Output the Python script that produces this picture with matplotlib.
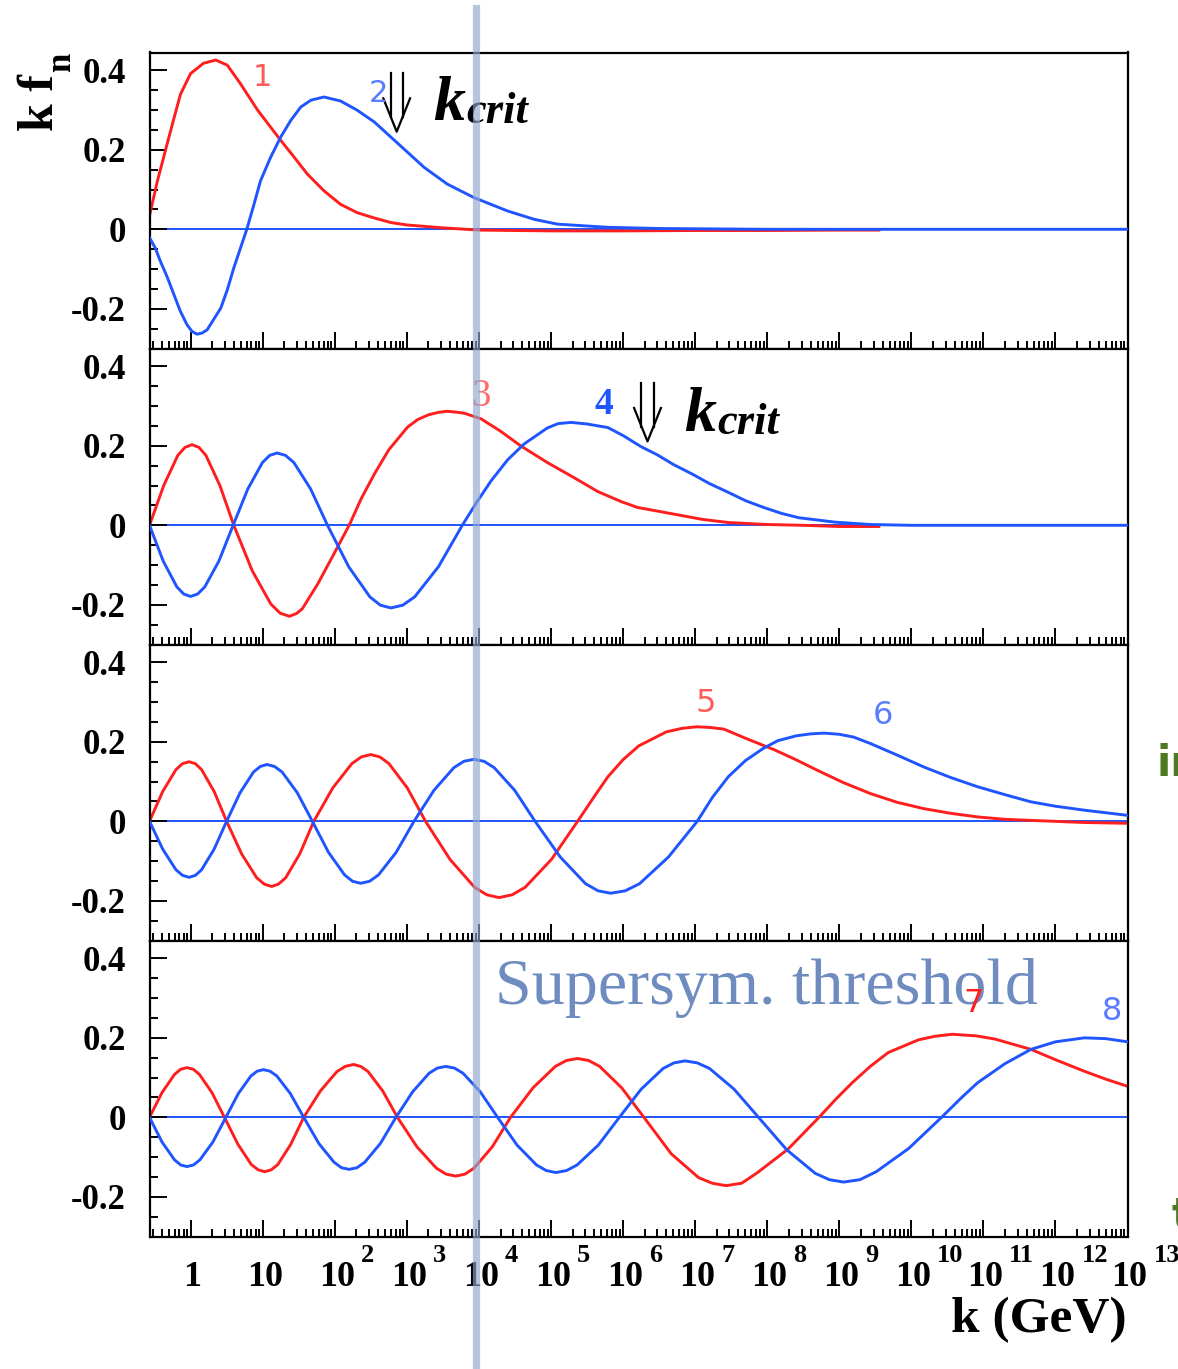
import numpy as np
import matplotlib
matplotlib.use("Agg")
import matplotlib.pyplot as plt
from matplotlib.lines import Line2D
from matplotlib.ticker import LogLocator, FixedLocator, MultipleLocator, NullFormatter
from matplotlib.transforms import blended_transform_factory, offset_copy

# ---------------------------------------------------------------
#  data: (log10(k / GeV), k*f_n)
# ---------------------------------------------------------------
curve_1 = [(-0.57, 0.034), (-0.46, 0.122), (-0.35, 0.198), (-0.23, 0.28), (-0.14, 0.34),
           (0.0, 0.392), (0.18, 0.418), (0.35, 0.426), (0.51, 0.413), (0.69, 0.367),
           (0.93, 0.30), (1.25, 0.224), (1.44, 0.181), (1.62, 0.139), (1.85, 0.097),
           (2.08, 0.063), (2.31, 0.042), (2.54, 0.029), (2.78, 0.017), (3.0, 0.011),
           (3.47, 0.004), (4.0, -0.002), (5.0, -0.004), (6.0, -0.004), (7.0, -0.003),
           (8.0, -0.003), (9.0, -0.002), (9.55, -0.002)]

curve_2 = [(-0.57, -0.021), (-0.49, -0.047), (-0.42, -0.080), (-0.32, -0.122), (-0.23, -0.165),
           (-0.14, -0.207), (-0.05, -0.24), (0.02, -0.257), (0.09, -0.264), (0.16, -0.261),
           (0.23, -0.253), (0.42, -0.198), (0.51, -0.152), (0.6, -0.097), (0.78, 0.0),
           (0.88, 0.063), (0.97, 0.122), (1.11, 0.181), (1.25, 0.232), (1.39, 0.274),
           (1.53, 0.308), (1.67, 0.325), (1.85, 0.333), (2.08, 0.323), (2.31, 0.30),
           (2.55, 0.27), (2.78, 0.232), (3.01, 0.194), (3.24, 0.156), (3.56, 0.114),
           (3.93, 0.080), (4.4, 0.046), (4.77, 0.025), (5.09, 0.013), (5.79, 0.005),
           (6.5, 0.002), (8.0, 0.0), (13.0, 0.0)]

curve_3 = [(-0.57, 0.0), (-0.373, 0.10), (-0.177, 0.176), (-0.078, 0.196), (0.02, 0.203),
           (0.117, 0.196), (0.213, 0.176), (0.407, 0.10), (0.6, 0.0), (0.857, -0.115),
           (1.113, -0.198), (1.242, -0.221), (1.37, -0.229), (1.47, -0.222), (1.55, -0.21),
           (1.76, -0.149), (1.98, -0.075), (2.2, 0.0), (2.37, 0.068), (2.55, 0.129),
           (2.75, 0.19), (3.01, 0.247), (3.15, 0.266), (3.3, 0.278), (3.43, 0.284),
           (3.56, 0.287), (3.68, 0.285), (3.8, 0.282), (4.03, 0.268), (4.3, 0.237),
           (4.58, 0.20), (4.95, 0.158), (5.32, 0.12), (5.65, 0.085), (5.97, 0.06),
           (6.2, 0.045), (6.71, 0.028), (7.1, 0.015), (7.46, 0.007), (8.0, 0.002),
           (8.5, 0.0), (9.0, -0.003), (9.55, -0.003)]

curve_4 = [(-0.57, 0.0), (-0.38, -0.09), (-0.19, -0.155), (-0.095, -0.173), (0.0, -0.179),
           (0.098, -0.173), (0.197, -0.155), (0.393, -0.09), (0.59, 0.0), (0.793, 0.091),
           (0.997, 0.158), (1.098, 0.176), (1.2, 0.182), (1.317, 0.176), (1.433, 0.158),
           (1.667, 0.091), (1.9, 0.0), (2.193, -0.104), (2.487, -0.18), (2.633, -0.201),
           (2.78, -0.208), (2.945, -0.201), (3.11, -0.18), (3.44, -0.104), (3.77, 0.0),
           (3.97, 0.058), (4.17, 0.112), (4.4, 0.165), (4.63, 0.205), (4.95, 0.245),
           (5.1, 0.256), (5.28, 0.259), (5.5, 0.255), (5.79, 0.246), (6.0, 0.226),
           (6.25, 0.198), (6.47, 0.178), (6.7, 0.153), (6.96, 0.129), (7.2, 0.105),
           (7.46, 0.083), (7.7, 0.062), (7.95, 0.045), (8.2, 0.03), (8.44, 0.019),
           (8.94, 0.008), (9.43, 0.002), (10.0, 0.0), (13.0, 0.0)]

curve_5 = [(-0.57, 0.0), (-0.387, 0.075), (-0.203, 0.13), (-0.112, 0.145), (-0.02, 0.15),
           (0.067, 0.145), (0.153, 0.13), (0.327, 0.075), (0.5, 0.0), (0.708, -0.082),
           (0.917, -0.142), (1.021, -0.158), (1.125, -0.164), (1.22, -0.158), (1.32, -0.142),
           (1.515, -0.082), (1.71, 0.0), (1.973, 0.084), (2.237, 0.145), (2.368, 0.162),
           (2.5, 0.168), (2.627, 0.162), (2.753, 0.145), (3.007, 0.084), (3.26, 0.0),
           (3.6, -0.096), (3.94, -0.166), (4.11, -0.185), (4.28, -0.192), (4.462, -0.185),
           (4.643, -0.166), (5.007, -0.096), (5.37, 0.0), (5.6, 0.062), (5.79, 0.112),
           (6.0, 0.155), (6.22, 0.19), (6.6, 0.225), (6.82, 0.234), (7.03, 0.238),
           (7.22, 0.236), (7.4, 0.232), (7.7, 0.209), (8.1, 0.18), (8.4, 0.155),
           (8.69, 0.129), (9.05, 0.098), (9.43, 0.07), (9.8, 0.048), (10.17, 0.032),
           (10.55, 0.02), (10.92, 0.011), (11.3, 0.005), (11.7, 0.002), (12.4, -0.003),
           (13.0, -0.005)]

curve_6 = [(-0.57, 0.0), (-0.387, -0.07), (-0.203, -0.122), (-0.112, -0.136), (-0.02, -0.141),
           (0.067, -0.136), (0.153, -0.122), (0.327, -0.07), (0.5, 0.0), (0.687, 0.072),
           (0.873, 0.124), (0.967, 0.138), (1.06, 0.143), (1.165, 0.138), (1.27, 0.124),
           (1.48, 0.072), (1.69, 0.0), (1.913, -0.078), (2.137, -0.135), (2.248, -0.151),
           (2.36, -0.156), (2.483, -0.151), (2.607, -0.135), (2.853, -0.078), (3.1, 0.0),
           (3.377, 0.078), (3.653, 0.135), (3.792, 0.151), (3.93, 0.156), (4.072, 0.151),
           (4.213, 0.135), (4.497, 0.078), (4.78, 0.0), (5.13, -0.09), (5.48, -0.157),
           (5.655, -0.175), (5.83, -0.181), (6.03, -0.175), (6.23, -0.157), (6.63, -0.09),
           (7.03, 0.0), (7.24, 0.06), (7.46, 0.112), (7.7, 0.153), (7.95, 0.184),
           (8.15, 0.203), (8.4, 0.215), (8.6, 0.22), (8.79, 0.222), (9.0, 0.219),
           (9.2, 0.212), (9.43, 0.196), (9.8, 0.167), (10.17, 0.137), (10.55, 0.11),
           (10.92, 0.087), (11.3, 0.067), (11.66, 0.049), (12.0, 0.038), (12.4, 0.028),
           (13.0, 0.015)]

curve_7 = [(-0.57, 0.0), (-0.397, 0.062), (-0.223, 0.108), (-0.137, 0.121), (-0.05, 0.125),
           (0.037, 0.121), (0.123, 0.108), (0.297, 0.062), (0.47, 0.0), (0.657, -0.068),
           (0.843, -0.119), (0.937, -0.132), (1.03, -0.137), (1.12, -0.132), (1.21, -0.119),
           (1.39, -0.068), (1.57, 0.0), (1.8, 0.066), (2.03, 0.115), (2.145, 0.128),
           (2.26, 0.133), (2.362, 0.128), (2.463, 0.115), (2.667, 0.066), (2.87, 0.0),
           (3.14, -0.074), (3.41, -0.128), (3.545, -0.143), (3.68, -0.148), (3.807, -0.143),
           (3.933, -0.128), (4.187, -0.074), (4.44, 0.0), (4.75, 0.074), (5.06, 0.128),
           (5.215, 0.143), (5.37, 0.148), (5.523, 0.143), (5.677, 0.128), (5.983, 0.074),
           (6.29, 0.0), (6.67, -0.092), (7.05, -0.152), (7.24, -0.166), (7.43, -0.172),
           (7.645, -0.166), (7.86, -0.14), (8.29, -0.08), (8.72, 0.0), (8.95, 0.045),
           (9.18, 0.087), (9.43, 0.128), (9.68, 0.163), (10.1, 0.195), (10.33, 0.204),
           (10.57, 0.209), (10.9, 0.205), (11.16, 0.197), (11.66, 0.171), (12.0, 0.145),
           (12.4, 0.116), (12.7, 0.096), (13.0, 0.078)]

curve_8 = [(-0.57, 0.0), (-0.397, -0.062), (-0.223, -0.107), (-0.137, -0.12), (-0.05, -0.124),
           (0.04, -0.12), (0.13, -0.107), (0.31, -0.062), (0.49, 0.0), (0.663, 0.06),
           (0.837, 0.104), (0.923, 0.116), (1.01, 0.12), (1.103, 0.116), (1.197, 0.104),
           (1.383, 0.06), (1.57, 0.0), (1.78, -0.066), (1.99, -0.113), (2.095, -0.127),
           (2.2, -0.131), (2.308, -0.127), (2.417, -0.113), (2.633, -0.066), (2.85, 0.0),
           (3.08, 0.064), (3.31, 0.111), (3.425, 0.124), (3.54, 0.128), (3.66, 0.124),
           (3.78, 0.111), (4.02, 0.064), (4.26, 0.0), (4.53, -0.07), (4.8, -0.12),
           (4.935, -0.134), (5.07, -0.139), (5.217, -0.134), (5.363, -0.12), (5.657, -0.07),
           (5.95, 0.0), (6.253, 0.071), (6.557, 0.123), (6.708, 0.137), (6.86, 0.142),
           (7.03, 0.137), (7.2, 0.123), (7.54, 0.071), (7.88, 0.0), (8.273, -0.082),
           (8.667, -0.141), (8.863, -0.157), (9.06, -0.163), (9.287, -0.157), (9.513, -0.137),
           (9.967, -0.078), (10.42, 0.0), (10.7, 0.05), (10.92, 0.087), (11.3, 0.135),
           (11.66, 0.171), (12.0, 0.19), (12.4, 0.2), (12.7, 0.198), (13.0, 0.19)]

y_ticks = [-0.2, 0.0, 0.2, 0.4]
y_labels = ["-0.2", "0", "0.2", "0.4"]
x_decades = list(range(0, 14))
curve_names = ["1", "2", "3", "4", "5", "6", "7", "8"]

# ---------------------------------------------------------------
#  style
# ---------------------------------------------------------------
W, H = 1178, 1369
RED = "#ff1e1e"
BLUE = "#1f55ff"
SERIF = "Liberation Serif"
X0, X1 = 149.5, 1127.5          # axes left/right (px)
TOPS = [52.5, 348.5, 644.5, 940.5]
PH = 296.0


def fx(x):
    return x / W


def fy(y):
    return 1 - y / H


fig = plt.figure(figsize=(W / 100, H / 100), dpi=100)
fig.patch.set_facecolor("white")

panels = [(curve_1, curve_2), (curve_3, curve_4), (curve_5, curve_6), (curve_7, curve_8)]

axes = []
for i, (c_red, c_blue) in enumerate(panels):
    ax = fig.add_axes([fx(X0), fy(TOPS[i] + PH), (X1 - X0) / W, PH / H])
    ax.set_xscale("log")
    ax.axhline(0, color=BLUE, lw=1.4, zorder=1)
    lr, vr = np.array(c_red).T
    lb, vb = np.array(c_blue).T
    ax.plot(10 ** lr, vr, color=RED, lw=2.1, zorder=2, solid_joinstyle="round")
    ax.plot(10 ** lb, vb, color=BLUE, lw=2.1, zorder=3, solid_joinstyle="round")
    ax.set_xlim(10 ** -0.57, 1e13)
    ax.set_ylim(-0.3, 0.445)

    ax.xaxis.set_major_locator(LogLocator(base=10, numticks=40))
    ax.xaxis.set_minor_locator(LogLocator(base=10, subs=np.arange(2, 10), numticks=400))
    ax.xaxis.set_major_formatter(NullFormatter())
    ax.xaxis.set_minor_formatter(NullFormatter())
    ax.yaxis.set_major_locator(FixedLocator(y_ticks))
    ax.yaxis.set_minor_locator(MultipleLocator(0.05))
    ax.set_yticklabels(y_labels, fontfamily=SERIF, fontweight="bold", fontsize=25)
    ax.tick_params(which="both", direction="in", top=False, right=False, width=1.4)
    ax.tick_params(which="major", length=12)
    ax.tick_params(which="minor", length=6)
    ax.tick_params(axis="y", pad=17)
    for s in ax.spines.values():
        s.set_linewidth(1.6)
    axes.append(ax)

# ---- x tick labels in ROOT style (bottom panel) ----------------
axb = axes[-1]
tr = blended_transform_factory(axb.transData, fig.transFigure)
for e in x_decades:
    k = 10.0 ** e
    txt = "1" if e == 0 else "10"
    axb.text(k, fy(1277), txt, transform=offset_copy(tr, fig, x=2, units="dots"),
             ha="center", va="center", fontfamily=SERIF, fontweight="bold",
             fontsize=26, clip_on=False)
    if e >= 2:
        axb.text(k, fy(1256), str(e), transform=offset_copy(tr, fig, x=26, units="dots"),
                 ha="left", va="center", fontfamily=SERIF, fontweight="bold",
                 fontsize=19, clip_on=False)

# ---- axis titles ------------------------------------------------
fig.text(fx(1127), fy(1320), "k (GeV)", ha="right", va="center",
         fontfamily=SERIF, fontweight="bold", fontsize=37)
fig.text(fx(53), fy(131), "k f", rotation=90, rotation_mode="anchor",
         ha="left", va="baseline", fontfamily=SERIF, fontweight="bold", fontsize=36)
fig.text(fx(70), fy(72), "n", rotation=90, rotation_mode="anchor",
         ha="left", va="baseline", fontfamily=SERIF, fontweight="bold", fontsize=25)

# ---- curve numbers ---------------------------------------------
fig.text(fx(262), fy(77), curve_names[0], color="#ff5a5a", ha="center", va="center", fontsize=22)
fig.text(fx(378), fy(93), curve_names[1], color="#5a7cff", ha="center", va="center", fontsize=22)
fig.text(fx(481), fy(396), curve_names[2], color="#ff6a6a", ha="center", va="center",
         fontfamily=SERIF, fontsize=28)
fig.text(fx(604), fy(405), curve_names[3], color=BLUE, ha="center", va="center",
         fontfamily=SERIF, fontweight="bold", fontsize=27)
fig.text(fx(706), fy(704), curve_names[4], color="#ff5a5a", ha="center", va="center", fontsize=23)
fig.text(fx(883), fy(716), curve_names[5], color="#5a7cff", ha="center", va="center", fontsize=23)
fig.text(fx(1112), fy(1012), curve_names[7], color="#5a7cff", ha="center", va="center", fontsize=23)


# ---- k_crit markers ---------------------------------------------
def kcrit(xc, ytop, xk, yb):
    s = [(-13.4, 25.0), (0.0, 58.4), (13.4, 25.0)]
    fig.add_artist(Line2D([fx(xc + p[0]) for p in s], [fy(ytop + p[1]) for p in s],
                          transform=fig.transFigure, color="black", lw=1.6))
    for dx in (-6.0, 6.5):
        fig.add_artist(Line2D([fx(xc + dx), fx(xc + dx)], [fy(ytop), fy(ytop + 43.5)],
                              transform=fig.transFigure, color="black", lw=1.6))
    fig.text(fx(xk), fy(yb), "k", ha="left", va="baseline", fontfamily=SERIF,
             fontweight="bold", fontstyle="italic", fontsize=46)
    fig.text(fx(xk + 33), fy(yb + 3), "crit", ha="left", va="baseline", fontfamily=SERIF,
             fontweight="bold", fontstyle="italic", fontsize=32)


kcrit(396.7, 73.3, 433, 120)
kcrit(647.5, 383.0, 684, 431)

# ---- threshold band and caption ---------------------------------
fig.add_artist(Line2D([fx(476), fx(476)], [0, fy(8)], transform=fig.transFigure,
                      color="#8fa6cc", alpha=0.65, lw=5.2, zorder=10))
fig.text(fx(495), fy(1004), "Supersym. threshold", ha="left", va="baseline",
         color="#6f8cc0", fontfamily=SERIF, fontsize=47.5, zorder=11)
fig.text(fx(974), fy(1003), curve_names[6], color=RED, ha="center", va="center",
         fontsize=23, zorder=12)

# ---- cropped green text at the right edge -----------------------
fig.text(fx(1157), fy(776), "in", color="#4b7a23", ha="left", va="baseline",
         fontweight="bold", fontsize=30)
fig.text(fx(1172), fy(1228), "t", color="#4b7a23", ha="left", va="baseline",
         fontweight="bold", fontsize=30)

fig.savefig("out.png", dpi=100)
